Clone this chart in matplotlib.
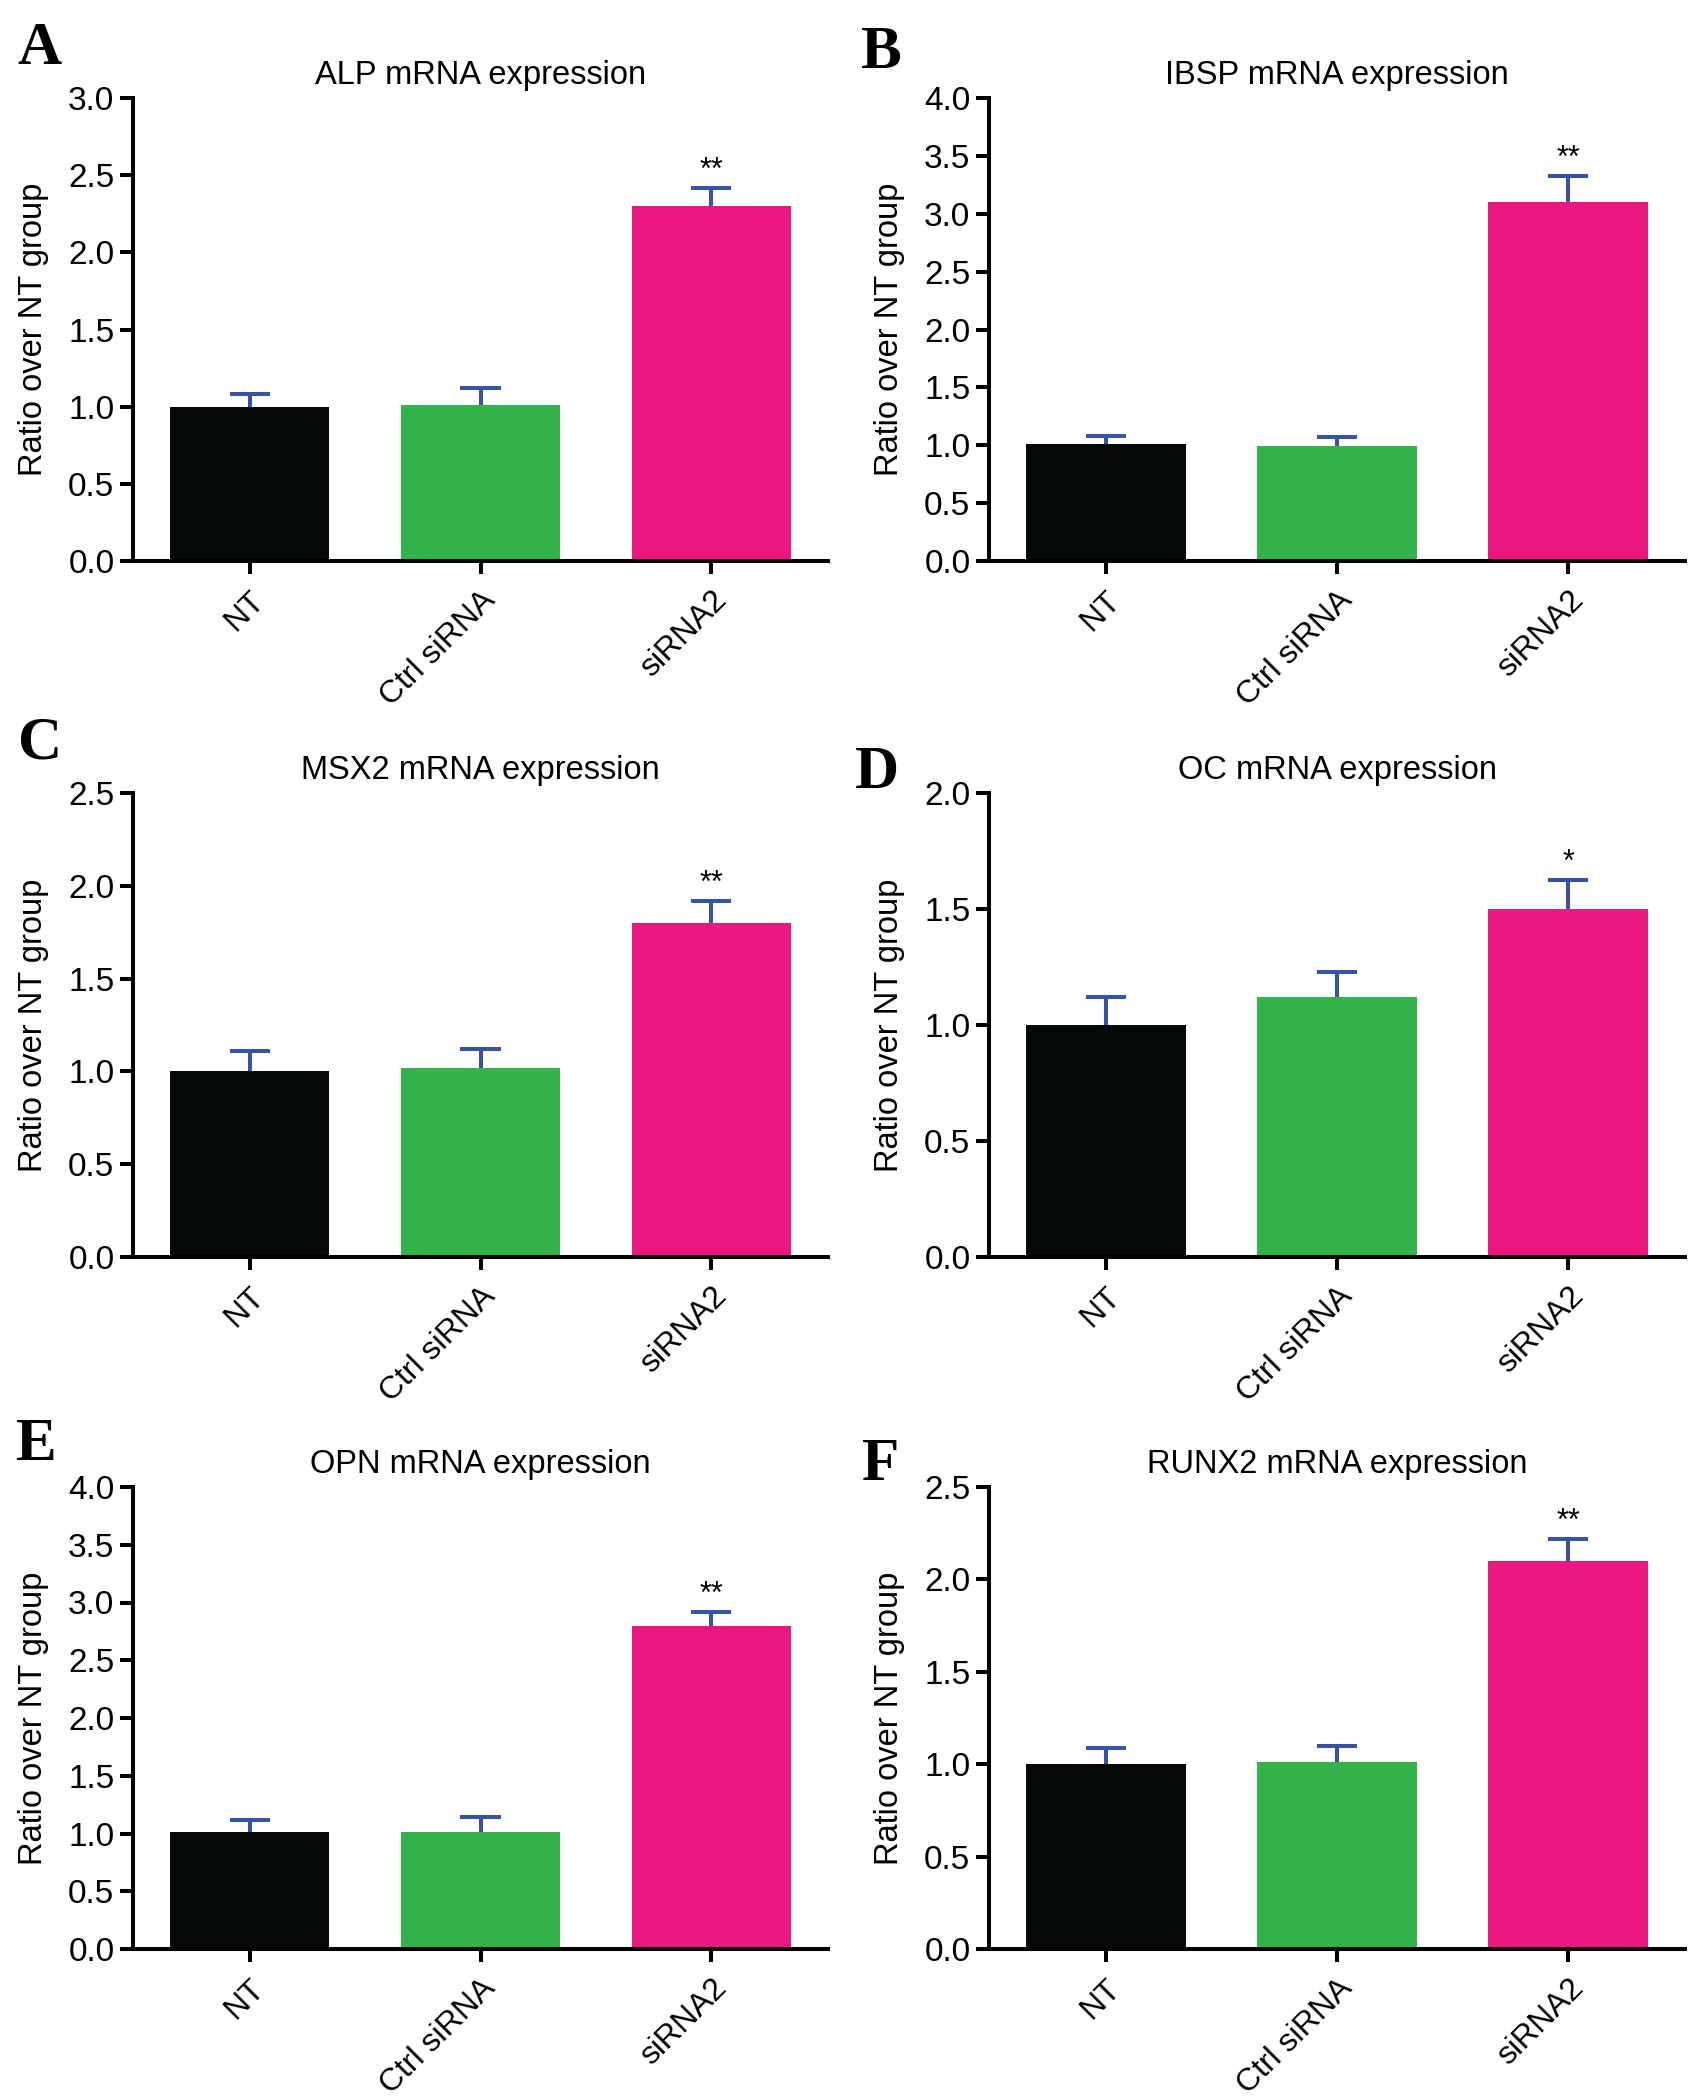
import matplotlib
matplotlib.use("Agg")
import matplotlib.pyplot as plt
import numpy as np

plt.rcParams['font.family'] = ['Liberation Sans', 'DejaVu Sans']

groups = ["NT", "Ctrl siRNA", "siRNA2"]
colors = ["#050a08", "#33b34a", "#eb1882"]
err_color = "#3953a4"

titles = ["ALP mRNA expression", "IBSP mRNA expression", "MSX2 mRNA expression",
          "OC mRNA expression", "OPN mRNA expression", "RUNX2 mRNA expression"]
letters = ["A", "B", "C", "D", "E", "F"]

alp_vals = [1.00, 1.01, 2.30]
alp_err = [0.08, 0.11, 0.12]
ibsp_vals = [1.01, 0.99, 3.10]
ibsp_err = [0.07, 0.08, 0.23]
msx2_vals = [1.00, 1.02, 1.80]
msx2_err = [0.11, 0.10, 0.12]
oc_vals = [1.00, 1.12, 1.50]
oc_err = [0.12, 0.11, 0.125]
opn_vals = [1.01, 1.01, 2.80]
opn_err = [0.11, 0.13, 0.12]
runx2_vals = [1.00, 1.01, 2.10]
runx2_err = [0.09, 0.09, 0.12]

all_vals = [alp_vals, ibsp_vals, msx2_vals, oc_vals, opn_vals, runx2_vals]
all_err = [alp_err, ibsp_err, msx2_err, oc_err, opn_err, runx2_err]
ymax = [3.0, 4.0, 2.5, 2.0, 4.0, 2.5]
ystep = 0.5
sig = ["**", "**", "**", "*", "**", "**"]

W, H = 1698.0, 2099.0
fig = plt.figure(figsize=(W / 100, H / 100), dpi=100)

col_x = [(133, 828), (989, 1685)]
row_y = [(98, 561), (793, 1257), (1487, 1949)]
letter_pos = [(40, 49), (881, 53), (40, 743), (877, 773), (36, 1445), (881, 1465)]

for i in range(6):
    r, c = divmod(i, 2)
    x0, x1 = col_x[c]
    yt, yb = row_y[r]
    ax = fig.add_axes([x0 / W, 1 - yb / H, (x1 - x0) / W, (yb - yt) / H])
    xs = np.arange(len(groups))
    vals = np.array(all_vals[i])
    errs = np.array(all_err[i])
    ax.bar(xs, vals, width=0.69, color=colors, zorder=2)
    tops = vals + errs
    ax.vlines(xs, vals, tops, color=err_color, linewidth=2.9, zorder=3)
    ax.hlines(tops, xs - 0.087, xs + 0.087, color=err_color, linewidth=2.9, zorder=3)
    ax.annotate(sig[i], (xs[2], tops[2]), xytext=(0, 12), textcoords='offset points',
                ha='center', va='center', fontsize=22)
    ax.set_xlim(-0.505, 2.505)
    ax.set_ylim(0, ymax[i])
    yt_vals = np.arange(0, ymax[i] + 0.001, ystep)
    ax.set_yticks(yt_vals)
    ax.set_yticklabels([f"{v:.1f}" for v in yt_vals])
    ax.set_xticks(xs)
    ax.set_xticklabels(groups, rotation=45, ha='right', rotation_mode='anchor')
    for s in ['top', 'right']:
        ax.spines[s].set_visible(False)
    for s in ['left', 'bottom']:
        ax.spines[s].set_linewidth(2.9)
    ax.tick_params(axis='both', width=2.9, length=9.4, labelsize=24, direction='out', pad=4)
    ax.tick_params(axis='x', pad=8, labelsize=23)
    ax.set_ylabel("Ratio over NT group", fontsize=23.5, labelpad=14)
    ax.set_title(titles[i], fontsize=23.5, pad=10)
    lx, ly = letter_pos[i]
    fig.text(lx / W, 1 - ly / H, letters[i], fontsize=44, fontweight='bold',
             family='Liberation Serif', ha='center', va='center')

fig.savefig("out.png", dpi=100)
